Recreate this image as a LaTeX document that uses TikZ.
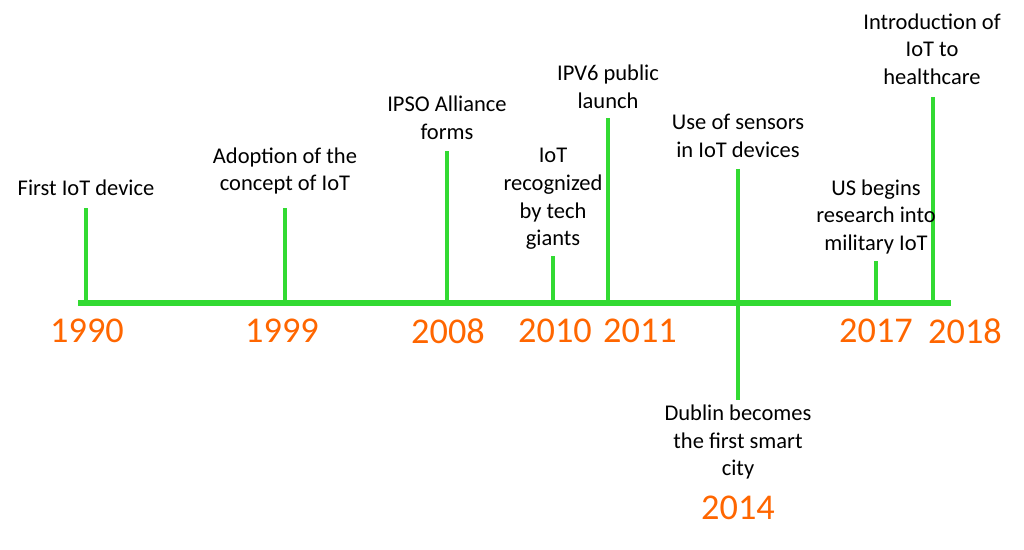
\documentclass[tikz,border=0pt]{standalone}
\usepackage{fontspec}
\setmainfont{Carlito}
\definecolor{tlgreen}{RGB}{50,218,50}
\definecolor{tlorange}{RGB}{255,102,0}
\begin{document}
\begin{tikzpicture}[x=0.025cm, y=-0.025cm,
  evt/.style={font=\fontsize{16}{19.6}\selectfont, align=center, text=black, inner sep=0pt},
  yr/.style={font=\fontsize{25.8}{30}\selectfont, text=tlorange, inner sep=0pt},
  tickline/.style={draw=tlgreen, line width=2.2pt},
  axisline/.style={draw=tlgreen, line width=4.5pt}]
\useasboundingbox (0,0) rectangle (1024,550);
% axis
\coordinate (aL) at (78,303);
\coordinate (aR) at (951,303);
\draw[axisline] (aL) -- (aR);
% ticks
\coordinate (b1990) at (86,303);  \coordinate (u1990) at (86,208);
\coordinate (b1999) at (285,303); \coordinate (u1999) at (285,208);
\coordinate (b2008) at (447,303); \coordinate (u2008) at (447,151);
\coordinate (b2010) at (553,303); \coordinate (u2010) at (553,256);
\coordinate (b2011) at (608,303); \coordinate (u2011) at (608,118);
\coordinate (u2014) at (738,169); \coordinate (d2014) at (738,400);
\coordinate (b2017) at (876,303); \coordinate (u2017) at (876,261);
\coordinate (b2018) at (933,303); \coordinate (u2018) at (933,97);
\draw[tickline] (b1990) -- (u1990);
\draw[tickline] (b1999) -- (u1999);
\draw[tickline] (b2008) -- (u2008);
\draw[tickline] (b2010) -- (u2010);
\draw[tickline] (b2011) -- (u2011);
\draw[tickline] (u2014) -- (d2014);
\draw[tickline] (b2017) -- (u2017);
\draw[tickline] (b2018) -- (u2018);
% event labels
\node[evt] (e1990) at (86,188) {First IoT device};
\node[evt] (e1999) at (285,171) {Adoption of the\\concept of IoT};
\node[evt] (e2008) at (447,118) {IPSO Alliance\\forms};
\node[evt] (e2010) at (553,199) {IoT\\recognized\\by tech\\giants};
\node[evt] (e2011) at (608,87) {IPV6 public\\launch};
\node[evt] (e2014a) at (738,136) {Use of sensors\\in IoT devices};
\node[evt] (e2017) at (876,217) {US begins\\research into\\military IoT};
\node[evt] (e2018) at (932,49) {Introduction of\\IoT to\\healthcare};
\node[evt] (e2014b) at (738,442) {Dublin becomes\\the first smart\\city};
% years
\node[yr] (y1990) at (87,331) {1990};
\node[yr] (y1999) at (282,331) {1999};
\node[yr] (y2008) at (448,331) {2008};
\node[yr] (y2010) at (555,331) {2010};
\node[yr] (y2011) at (640,331) {2011};
\node[yr] (y2017) at (876,331) {2017};
\node[yr] (y2018) at (965,331) {2018};
\node[yr] (y2014) at (738,508) {2014};
\end{tikzpicture}
\end{document}
